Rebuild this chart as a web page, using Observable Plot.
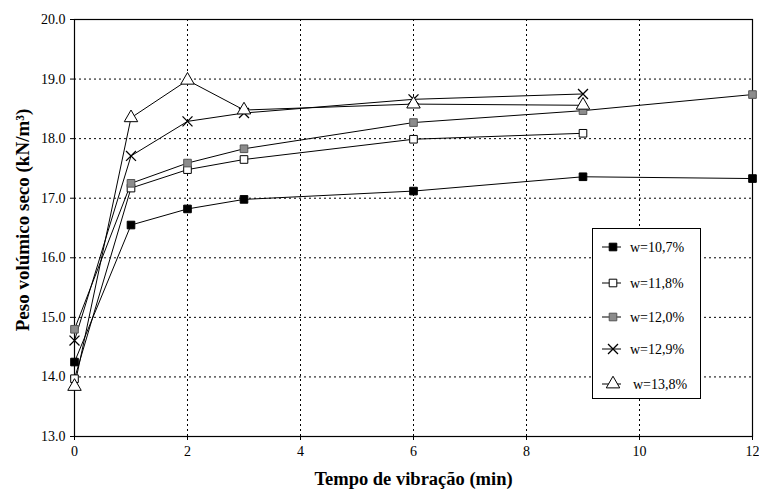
<!DOCTYPE html>
<html>
<head>
<meta charset="utf-8">
<script src="https://cdn.jsdelivr.net/npm/d3@7"></script>
<script src="https://cdn.jsdelivr.net/npm/@observablehq/plot@0.6"></script>
<style>
  body { margin: 0; background: #fff; }
  #wrap { position: relative; width: 759px; height: 492px; font-family: "Liberation Serif", "Times New Roman", serif; }
  #wrap svg, #wrap svg text, #wrap svg g { font-family: "Liberation Serif", "Times New Roman", serif !important; }
  #legend { position: absolute; left: 592px; top: 228px; width: 107px; height: 169px; border: 1px solid #000; background: #fff; }
</style>
</head>
<body>
<div id="wrap"></div>
<script>
const times = [0, 1, 2, 3, 6, 9, 12];
const seriesNames = ["w=10,7%", "w=11,8%", "w=12,0%", "w=12,9%", "w=13,8%"];
const w107 = [14.25, 16.55, 16.82, 16.98, 17.12, 17.36, 17.33];
const w118 = [13.97, 17.17, 17.48, 17.65, 17.99, 18.09];
const w120 = [14.80, 17.25, 17.59, 17.83, 18.27, 18.47, 18.74];
const w129 = [14.61, 17.71, 18.29, 18.43, 18.66, 18.75];
const w138 = [13.84, 18.35, 18.98, 18.48, 18.58, 18.56];
const yTicks = [13, 14, 15, 16, 17, 18, 19, 20];
const xTicks = [0, 2, 4, 6, 8, 10, 12];

const allValues = [w107, w118, w120, w129, w138];
const rows = [];
allValues.forEach((vals, i) => vals.forEach((v, j) => rows.push({series: seriesNames[i], t: times[j], y: v})));

const serif = '"Liberation Serif", "Times New Roman", serif';
const styles = {
  "w=10,7%": {symbol: "square", fill: "#000", stroke: "#000", r: 4.3},
  "w=11,8%": {symbol: "square", fill: "#fff", stroke: "#000", r: 4.3},
  "w=12,0%": {symbol: "square", fill: "#8c8c8c", stroke: "#555", r: 4.3},
  "w=12,9%": {symbol: "times", fill: "none", stroke: "#000", r: 4.6},
  "w=13,8%": {symbol: "triangle", fill: "#fff", stroke: "#000", r: 5}
};

const dotMarks = seriesNames.map(s => Plot.dot(rows.filter(d => d.series === s), {
  x: "t", y: "y", symbol: () => styles[s].symbol, fill: styles[s].fill, stroke: styles[s].stroke,
  r: styles[s].r, strokeWidth: s === "w=12,9%" ? 1.3 : 1
}));

const chart = Plot.plot({
  width: 759,
  height: 492,
  marginLeft: 74,
  marginTop: 19,
  marginRight: 7,
  marginBottom: 56,
  style: {fontFamily: serif, fontSize: "14px", background: "#fff", color: "#000"},
  x: {domain: [0, 12]},
  y: {domain: [13, 20]},
  symbol: {type: "identity"},
  marks: [
    Plot.gridX(xTicks, {stroke: "#000", strokeOpacity: 1, strokeDasharray: "2,3", strokeWidth: 1}),
    Plot.gridY(yTicks, {stroke: "#000", strokeOpacity: 1, strokeDasharray: "2,3", strokeWidth: 1}),
    Plot.frame({stroke: "#000", strokeWidth: 1.2}),
    Plot.axisX(xTicks, {tickSize: 4, tickPadding: 6, label: null, fontSize: 14, fontFamily: serif}),
    Plot.axisY(yTicks, {tickSize: 4, tickPadding: 5, tickFormat: d => d.toFixed(1), label: null, fontSize: 14, fontFamily: serif}),
    Plot.line(rows, {x: "t", y: "y", z: "series", stroke: "#000", strokeWidth: 1}),
    ...dotMarks,
    Plot.text(["Tempo de vibração (min)"], {frameAnchor: "bottom", dy: 48, fontWeight: "bold", fontSize: 18.5, fontFamily: serif}),
    Plot.text(["Peso volúmico seco (kN/m³)"], {frameAnchor: "left", textAnchor: "middle", dx: -52, dy: -8, rotate: -90, fontWeight: "bold", fontSize: 19, fontFamily: serif})
  ]
});
const wrap = document.getElementById("wrap");
wrap.appendChild(chart);

// Legend
const legend = document.createElement("div");
legend.id = "legend";
wrap.appendChild(legend);
const lsvg = d3.select(legend).append("svg").attr("width", 107).attr("height", 169);
const entryY = [18, 54, 88, 120, 155];
const symMap = {square: d3.symbolSquare, times: d3.symbolTimes, triangle: d3.symbolTriangle};
seriesNames.forEach((s, i) => {
  const st = styles[s];
  const g = lsvg.append("g").attr("transform", `translate(0,${entryY[i]})`);
  g.append("line").attr("x1", 9).attr("x2", 28).attr("y1", 0).attr("y2", 0).attr("stroke", "#000");
  g.append("path").attr("transform", "translate(20,0)")
    .attr("d", d3.symbol(symMap[st.symbol], Math.PI * st.r * st.r)())
    .attr("fill", st.fill).attr("stroke", st.stroke).attr("stroke-width", s === "w=12,9%" ? 1.3 : 1);
  g.append("text").attr("x", i === 4 ? 40 : 37).attr("y", 0).attr("dy", "0.35em")
    .attr("font-size", 14).text(s);
});
</script>
</body>
</html>
